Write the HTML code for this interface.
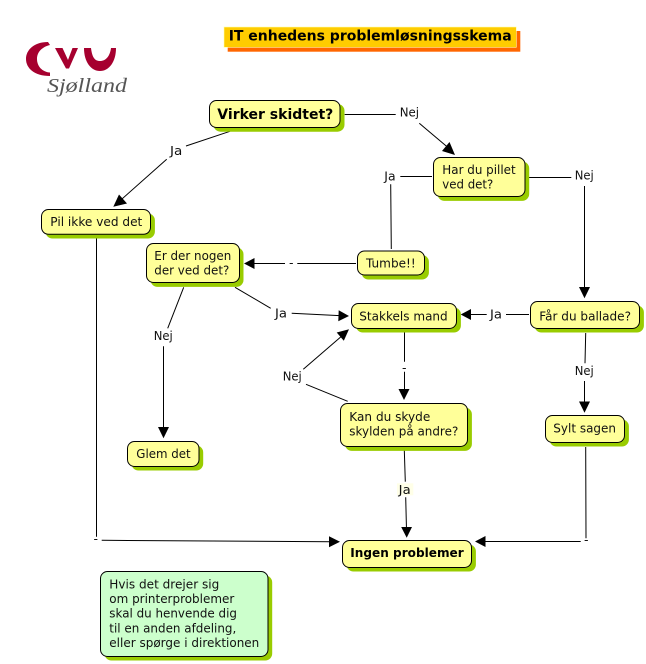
<!DOCTYPE html>
<html><head><meta charset="utf-8"><style>
html,body{margin:0;padding:0;background:#fff;width:646px;height:664px;overflow:hidden}
svg{display:block}
text{font-family:"DejaVu Sans","Liberation Sans",sans-serif;font-size:12.5px;fill:#111}
.b{font-weight:bold;fill:#000}
.n{fill:#ffff99;stroke:#000;stroke-width:1}
.s{fill:#99cc00}
.l{stroke:#000;stroke-width:1;fill:none}
.a{fill:#000}
</style></head><body>
<svg width="646" height="664" viewBox="0 0 646 664" xmlns="http://www.w3.org/2000/svg">
<!-- logo -->
<path d="M48 42C34 42 26 50 26 59C26 68 34 76 50 76L50 72.5C42 72 37 66 37 59C37 52 42 47 50 45Z" fill="#a6002f"/>
<path d="M55 48H62.5L68 60L72.5 48H78L69 68.5H66Z" fill="#a6002f"/>
<path d="M84 48C84 62 91 71 100 71C109 71 116 62 116 48H111C110 56 106 61 100 61C94 61 92 56 91 48Z" fill="#a6002f"/>
<text x="47" y="92" textLength="80" lengthAdjust="spacingAndGlyphs" style="font-family:'Liberation Serif',serif;font-style:italic;font-size:20px;fill:#555">Sjølland</text>
<!-- title -->
<rect x="227.7" y="31" width="292.6" height="20.7" fill="#ff6600"/>
<rect x="224" y="27" width="292.3" height="20.3" fill="#ffcc00" stroke="#ffffaa" stroke-width=".6"/>
<text class="b" x="228.7" y="40.5" textLength="283" lengthAdjust="spacingAndGlyphs" style="font-size:14px">IT enhedens problemløsningsskema</text>
<!-- connectors -->
<path class="l" d="M230 131.3L186 146M166.7 159.3L118 202.5"/>
<path class="a" d="M113.3 206.7L119 194.5L127 203.5Z"/>
<path class="l" d="M344.7 114.5H395.7M419.3 123.3L448 147.5"/>
<path class="a" d="M455 155L442 151L449.5 142Z"/>
<path class="l" d="M432 176.5H400.3M390.7 184.3L391.3 249"/>
<path class="l" d="M528 177.5H571.3M584.5 186V290"/>
<path class="a" d="M584.5 298.3L579 287H590Z"/>
<path class="l" d="M356 263.5H297.3M285 263.5H250"/>
<path class="a" d="M244 263.5L254.5 258V269Z"/>
<path class="l" d="M235 287.3L270.7 308.3M291.7 313.3L342 315.8"/>
<path class="a" d="M349 316L338.3 321.3L338.7 310.3Z"/>
<path class="l" d="M183.7 287.3L167.7 328.3M163.5 346.3V430"/>
<path class="a" d="M163.5 438.3L158 427H169Z"/>
<path class="l" d="M347.7 401.3L306 384.3M303.3 369.3L343 335"/>
<path class="a" d="M349 329.3L343.8 340.7L336.7 332.5Z"/>
<path class="l" d="M404.5 332.3V361.7M404.5 371.7V392"/>
<path class="a" d="M404 400L398.5 389H409.5Z"/>
<path class="l" d="M529 314.5H506M486.7 314.5H467"/>
<path class="a" d="M460.7 314.5L471 309V320Z"/>
<path class="l" d="M585.7 333L585 363.3M584.5 381V405"/>
<path class="a" d="M584.5 412.7L579 401.5H590Z"/>
<path class="l" d="M585.7 447L586 538.3M580.7 541.5H482"/>
<path class="a" d="M475 541.5L485.5 536V547Z"/>
<path class="l" d="M404.3 450L405.3 481.7M405.7 497.3L406.5 530"/>
<path class="a" d="M406.7 537.7L401.2 527H412Z"/>
<path class="l" d="M96.5 237V536.7M101.7 540.3L332 541.7"/>
<path class="a" d="M340 541.7L329 547.2V536.2Z"/>
<!-- nodes -->
<rect class="s" x="213.5" y="104" width="131" height="27.7" rx="7"/><rect class="n" x="209.5" y="100.5" width="130.5" height="27" rx="7"/>
<text class="b" x="217.3" y="119" textLength="116" lengthAdjust="spacingAndGlyphs" style="font-size:14px">Virker skidtet?</text>
<rect class="s" x="437.5" y="161.5" width="91.7" height="39.4" rx="7"/><rect class="n" x="433.5" y="157.5" width="91.5" height="39" rx="7"/>
<text x="442.3" y="174" textLength="73.4" lengthAdjust="spacingAndGlyphs">Har du pillet</text>
<text x="442.3" y="188.7" textLength="51" lengthAdjust="spacingAndGlyphs">ved det?</text>
<rect class="s" x="45.5" y="213.5" width="109.4" height="25" rx="7"/><rect class="n" x="41.5" y="209.5" width="109" height="24.8" rx="7"/>
<text x="50.3" y="226" textLength="92" lengthAdjust="spacingAndGlyphs">Pil ikke ved det</text>
<rect class="s" x="150.5" y="247.5" width="93" height="39.4" rx="7"/><rect class="n" x="146.5" y="243.5" width="93" height="39" rx="7"/>
<text x="154.3" y="260" textLength="77" lengthAdjust="spacingAndGlyphs">Er der nogen</text>
<text x="154.3" y="274.3" textLength="75" lengthAdjust="spacingAndGlyphs">der ved det?</text>
<rect class="s" x="361.5" y="255" width="67.4" height="24.5" rx="7"/><rect class="n" x="357.5" y="251" width="67" height="24" rx="7"/>
<text x="366" y="267.3" textLength="49.7" lengthAdjust="spacingAndGlyphs">Tumbe!!</text>
<rect class="s" x="355.9" y="307.5" width="105" height="25" rx="7"/><rect class="n" x="351.5" y="303.5" width="105" height="25" rx="7"/>
<text x="359.3" y="320.3" textLength="88.4" lengthAdjust="spacingAndGlyphs">Stakkels mand</text>
<rect class="s" x="534.5" y="305.5" width="109.4" height="27" rx="7"/><rect class="n" x="530.5" y="301.5" width="109" height="27" rx="7"/>
<text x="539.3" y="320.3" textLength="91.7" lengthAdjust="spacingAndGlyphs">Får du ballade?</text>
<rect class="s" x="344.9" y="407.5" width="127" height="43.4" rx="7"/><rect class="n" x="340.5" y="403.5" width="127" height="43" rx="7"/>
<text x="349.3" y="421" textLength="81" lengthAdjust="spacingAndGlyphs">Kan du skyde</text>
<text x="349.3" y="435.7" textLength="109" lengthAdjust="spacingAndGlyphs">skylden på andre?</text>
<rect class="s" x="549.5" y="419.5" width="79.4" height="27" rx="7"/><rect class="n" x="545.5" y="415.5" width="79" height="27" rx="7"/>
<text x="553.3" y="432.3" textLength="62.7" lengthAdjust="spacingAndGlyphs">Sylt sagen</text>
<rect class="s" x="131.5" y="445.5" width="71.7" height="25" rx="7"/><rect class="n" x="127.5" y="441.5" width="71.5" height="25" rx="7"/>
<text x="136.3" y="458" textLength="54.4" lengthAdjust="spacingAndGlyphs">Glem det</text>
<rect class="s" x="346.5" y="544.5" width="129.4" height="27" rx="7"/><rect class="n" x="342.5" y="540.5" width="129" height="27" rx="7"/>
<text class="b" x="350.3" y="557" textLength="113.4" lengthAdjust="spacingAndGlyphs">Ingen problemer</text>
<rect class="s" x="104.5" y="575.5" width="167.7" height="85" rx="7"/><rect x="100.5" y="571.5" width="167.5" height="85" rx="7" fill="#ccffcc" stroke="#000"/>
<text x="109.3" y="588.3" textLength="110" lengthAdjust="spacingAndGlyphs">Hvis det drejer sig</text>
<text x="109.3" y="603" textLength="125" lengthAdjust="spacingAndGlyphs">om printerproblemer</text>
<text x="109.3" y="617.7" textLength="127.7" lengthAdjust="spacingAndGlyphs">skal du henvende dig</text>
<text x="109.3" y="632.3" textLength="127" lengthAdjust="spacingAndGlyphs">til en anden afdeling,</text>
<text x="109.3" y="647" textLength="150" lengthAdjust="spacingAndGlyphs">eller spørge i direktionen</text>
<!-- labels -->
<text x="170" y="155" textLength="12.3" lengthAdjust="spacingAndGlyphs">Ja</text>
<text x="399.7" y="116.7" textLength="19.3" lengthAdjust="spacingAndGlyphs">Nej</text>
<text x="384.3" y="180.3" textLength="11.3" lengthAdjust="spacingAndGlyphs">Ja</text>
<text x="574.7" y="179.7" textLength="19" lengthAdjust="spacingAndGlyphs">Nej</text>
<text x="289" y="267">-</text>
<text x="275" y="317.7" textLength="12" lengthAdjust="spacingAndGlyphs">Ja</text>
<text x="153.7" y="340" textLength="19" lengthAdjust="spacingAndGlyphs">Nej</text>
<text x="282.7" y="380.7" textLength="19" lengthAdjust="spacingAndGlyphs">Nej</text>
<text x="490" y="318.7" textLength="12" lengthAdjust="spacingAndGlyphs">Ja</text>
<text x="574.7" y="375" textLength="19" lengthAdjust="spacingAndGlyphs">Nej</text>
<text x="402" y="372">-</text>
<rect x="397" y="483.3" width="16.3" height="12" fill="#ffffe8"/>
<text x="398.7" y="494" textLength="12" lengthAdjust="spacingAndGlyphs">Ja</text>
<text x="93.5" y="543">-</text>
<text x="584" y="544">-</text>
</svg>
</body></html>
